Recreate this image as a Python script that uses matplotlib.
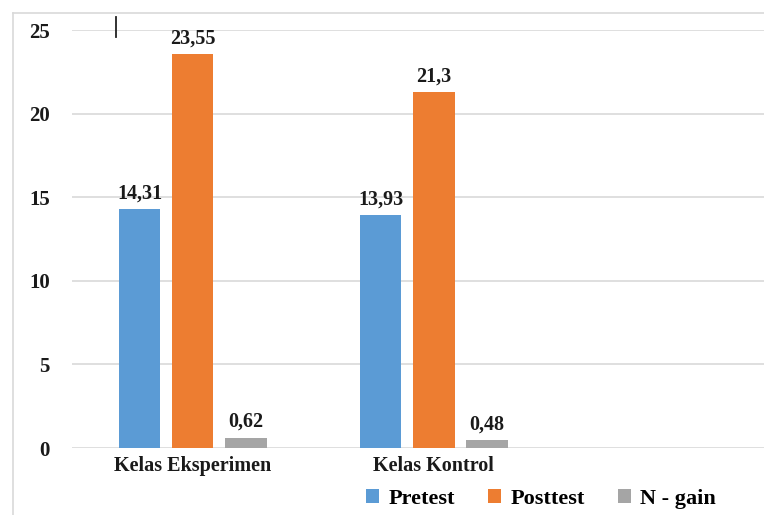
import numpy as np
import matplotlib
matplotlib.use("Agg")
from matplotlib import pyplot as plt
from matplotlib.lines import Line2D

# data
categories = ["Kelas Eksperimen", "Kelas Kontrol"]
series_names = ["Pretest", "Posttest", "N - gain"]
pretest = [14.31, 13.93]
posttest = [23.55, 21.3]
ngain = [0.62, 0.48]
yticks = [0, 5, 10, 15, 20, 25]

colors = ["#5B9BD5", "#ED7D31", "#A5A5A5"]
grid_color = "#D9D9D9"
text_color = "#1a1a1a"
serif = ["Liberation Serif", "DejaVu Serif"]

plt.rcParams["font.family"] = serif
plt.rcParams["font.weight"] = "bold"

fig = plt.figure(figsize=(7.64, 5.15), dpi=100)
ax = fig.add_axes([72/764, 67/515, 692/764, 418/515])

x = np.arange(len(categories))
width = 0.174
step = 0.22
for i, (name, vals) in enumerate(zip(series_names, [pretest, posttest, ngain])):
    bars = ax.bar(x + (i - 1)*step, vals, width, color=colors[i], label=name, zorder=3)
    labels = [f"{v:g}".replace(".", ",") for v in vals]
    ax.bar_label(bars, labels=labels, padding=4, fontsize=14.5, fontweight="bold", color=text_color)

ax.set_xlim(-0.5, 2.371)
ax.set_ylim(0, 25)
ax.set_yticks(yticks)
ax.set_xticks(x)
ax.set_xticklabels(categories, fontsize=14.5, fontweight="bold", color=text_color)
ax.tick_params(axis="y", length=0, pad=16, labelsize=15, labelcolor=text_color)
ax.tick_params(axis="x", length=0, pad=6)
ax.grid(axis="y", color=grid_color, lw=1.2, zorder=0)
for s in ax.spines.values():
    s.set_visible(False)

fig.legend(loc="center", bbox_to_anchor=(541/764, 16/515), ncol=3, frameon=False,
           prop={"family": serif, "weight": "bold", "size": 16},
           handlelength=0.6, handleheight=0.6, handletextpad=0.4, columnspacing=1.5)

# outer chart border (only top and left are visible, the rest is cropped)
fig.add_artist(Line2D([13/764, 13/764], [0, 1 - 13/515], color=grid_color, lw=1.2))
fig.add_artist(Line2D([13/764, 1], [1 - 13/515, 1 - 13/515], color=grid_color, lw=1.2))
# stray cursor mark at the top
fig.add_artist(Line2D([116/764, 116/764], [1 - 17/515, 1 - 37/515], color="#222222", lw=1.3))

fig.savefig("out.png", dpi=100)
